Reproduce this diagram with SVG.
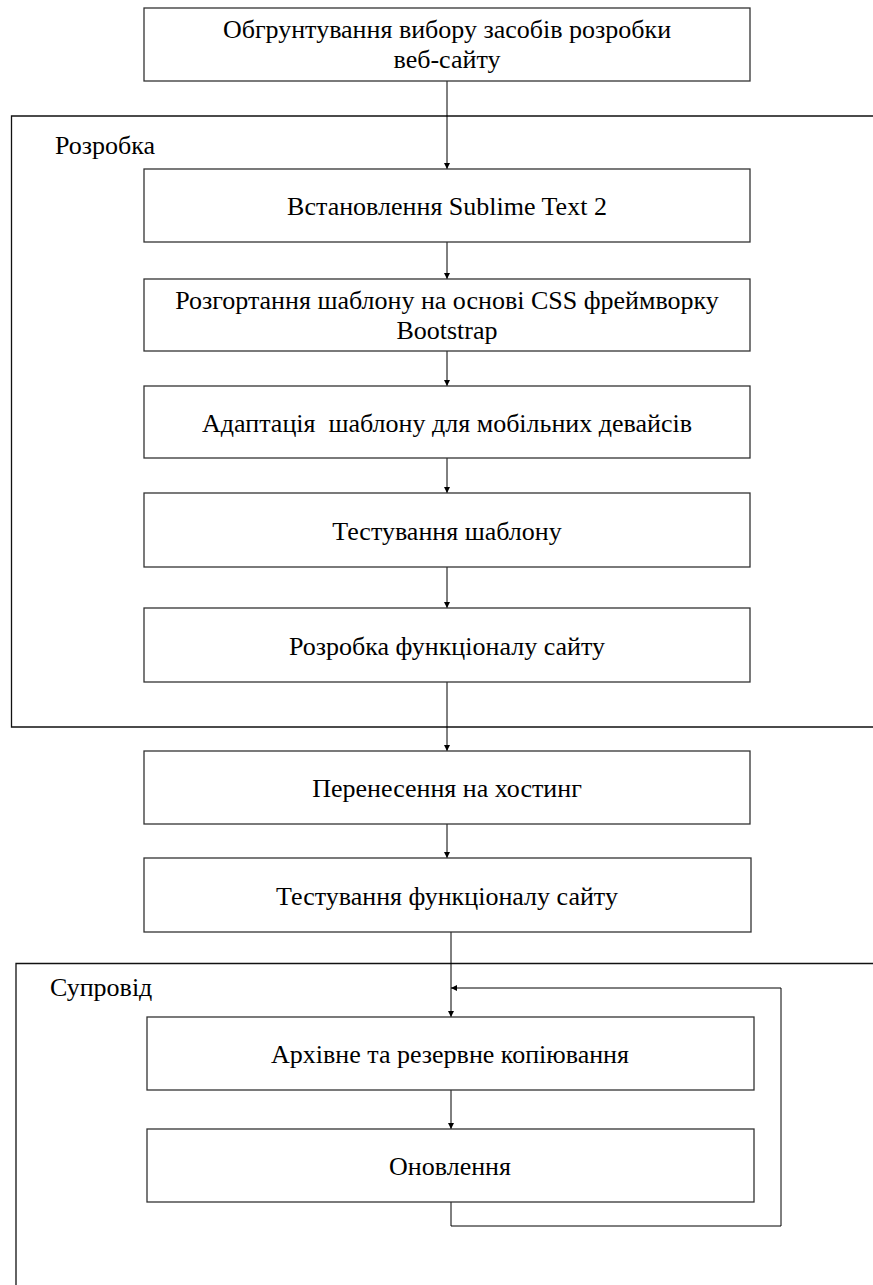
<svg xmlns="http://www.w3.org/2000/svg" width="873" height="1285" viewBox="0 0 873 1285">
<style>
.box{fill:#fff;stroke:#333;stroke-width:1.3}
.cont{fill:none;stroke:#111;stroke-width:1.3}
text{font-family:'Liberation Serif','Times New Roman',Times,serif;font-size:26px;fill:#000}
.t{text-anchor:middle}
.c{fill:none;stroke:#000;stroke-width:1}
</style>
<defs>
<marker id="ah" viewBox="0 0 10 10" refX="10" refY="5" markerWidth="6" markerHeight="8" markerUnits="userSpaceOnUse" orient="auto">
<path d="M0,0 L10,5 L0,10 z" fill="#000"/>
</marker>
</defs>
<g id="container-rozrobka">
<path class="cont" d="M873,116 H11.5 V727 H873"/>
<text x="55" y="154">Розробка</text>
</g>
<g id="container-suprovid">
<path class="cont" d="M873,963.5 H16 V1285"/>
<text x="50" y="996">Супровід</text>
</g>
<g id="connectors">
<line class="c" x1="447" y1="81" x2="447" y2="169" marker-end="url(#ah)"/>
<line class="c" x1="447" y1="242" x2="447" y2="279" marker-end="url(#ah)"/>
<line class="c" x1="447" y1="351" x2="447" y2="386" marker-end="url(#ah)"/>
<line class="c" x1="447" y1="458" x2="447" y2="493" marker-end="url(#ah)"/>
<line class="c" x1="447" y1="567" x2="447" y2="608" marker-end="url(#ah)"/>
<line class="c" x1="447" y1="682" x2="447" y2="751" marker-end="url(#ah)"/>
<line class="c" x1="447" y1="824" x2="447" y2="858" marker-end="url(#ah)"/>
<line class="c" x1="451" y1="932" x2="451" y2="1017" marker-end="url(#ah)"/>
<line class="c" x1="451" y1="1090" x2="451" y2="1129" marker-end="url(#ah)"/>
<path class="c" d="M451,1202 V1226 H781 V988 H451" marker-end="url(#ah)"/>
</g>
<g id="n1">
<rect class="box" x="144" y="8" width="606" height="73"/>
<text class="t" x="447" y="38">Обгрунтування вибору засобів розробки</text>
<text class="t" x="447" y="68">веб-сайту</text>
</g>
<g id="n2">
<rect class="box" x="144" y="169" width="606" height="73"/>
<text class="t" x="447" y="215">Встановлення Sublime Text 2</text>
</g>
<g id="n3">
<rect class="box" x="144" y="279" width="606" height="72"/>
<text class="t" x="447" y="309">Розгортання шаблону на основі CSS фреймворку</text>
<text class="t" x="447" y="339">Bootstrap</text>
</g>
<g id="n4">
<rect class="box" x="144" y="386" width="606" height="72"/>
<text class="t" x="447" y="432" xml:space="preserve">Адаптація  шаблону для мобільних девайсів</text>
</g>
<g id="n5">
<rect class="box" x="144" y="493" width="606" height="74"/>
<text class="t" x="447" y="540">Тестування шаблону</text>
</g>
<g id="n6">
<rect class="box" x="144" y="608" width="606" height="74"/>
<text class="t" x="447" y="655">Розробка функціоналу сайту</text>
</g>
<g id="n7">
<rect class="box" x="144" y="751" width="606" height="73"/>
<text class="t" x="447" y="797">Перенесення на хостинг</text>
</g>
<g id="n8">
<rect class="box" x="144" y="858" width="607" height="74"/>
<text class="t" x="447" y="905">Тестування функціоналу сайту</text>
</g>
<g id="n9">
<rect class="box" x="147" y="1017" width="607" height="73"/>
<text class="t" x="450" y="1063">Архівне та резервне копіювання</text>
</g>
<g id="n10">
<rect class="box" x="147" y="1129" width="607" height="73"/>
<text class="t" x="450" y="1175">Оновлення</text>
</g>
</svg>
